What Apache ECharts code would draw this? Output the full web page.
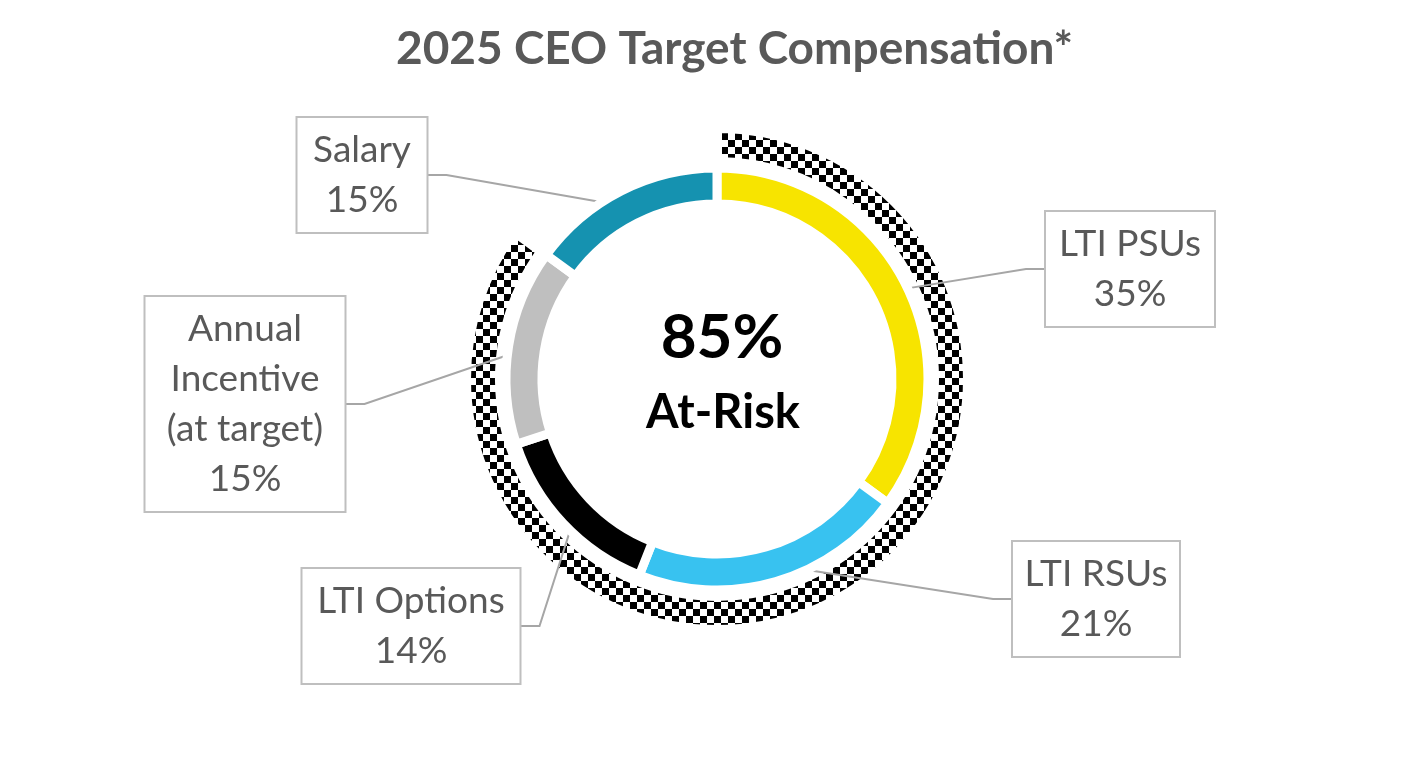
<!DOCTYPE html>
<html>
<head>
<meta charset="utf-8">
<title>2025 CEO Target Compensation</title>
<script src="https://cdn.jsdelivr.net/npm/echarts@6/dist/echarts.min.js"></script>
<style>
  html, body { margin: 0; padding: 0; background: #fff; }
  #chart { width: 1420px; height: 760px; }
</style>
</head>
<body>
<div id="chart"></div>
<script>
// 数据
const categories = ['LTI PSUs', 'LTI RSUs', 'LTI Options', 'Annual\nIncentive\n(at target)', 'Salary']
const values = [35, 21, 14, 15, 15]
const atRisk = [true, true, true, true, false]
const colors = ['#F7E400', '#38C2F0', '#000000', '#BFBFBF', '#1592B0']

const total = values.reduce((a, b) => a + b, 0)
const atRiskTotal = values.filter((v, i) => atRisk[i]).reduce((a, b) => a + b, 0)

// 布局
const cx = 717, cy = 379
const rMid = 193
// 标签框位置：中心点、内容宽度、在哪一侧
const labelBoxes = [
  { x: 1130, y: 269, w: 168, side: 'right' },
  { x: 1096, y: 599, w: 166, side: 'right' },
  { x: 411, y: 626, w: 217, side: 'left' },
  { x: 245, y: 404, w: 199, side: 'left' },
  { x: 362, y: 175, w: 129, side: 'left' }
]

// 棋盘格填充
const checker = document.createElement('canvas')
checker.width = 14
checker.height = 14
const cctx = checker.getContext('2d')
cctx.fillStyle = '#fff'
cctx.fillRect(0, 0, 14, 14)
cctx.fillStyle = '#000'
cctx.fillRect(0, 0, 7, 7)
cctx.fillRect(7, 7, 7, 7)

// 每个扇区中点的角度（从 12 点钟方向顺时针）
const midAngles = []
let cum = 0
values.forEach(v => {
  midAngles.push((cum + v / 2) / total * Math.PI * 2)
  cum += v
})

let chartDom = document.getElementById('chart')
let myChart = echarts.init(chartDom)

let option = {
  animation: false,
  textStyle: { fontFamily: 'Lato' },
  title: {
    text: '2025 CEO Target Compensation*',
    left: 396,
    top: 26,
    padding: 0,
    textStyle: {
      fontFamily: 'Lato',
      fontWeight: 'bold',
      fontSize: 46,
      color: '#595959'
    }
  },
  graphic: [
    {
      type: 'text',
      x: 722,
      y: 338,
      z: 10,
      style: {
        text: atRiskTotal + '%',
        fontFamily: 'Lato',
        fontWeight: 'bold',
        fontSize: 62,
        fill: '#000',
        align: 'center',
        verticalAlign: 'middle',
        textAlign: 'center',
        textVerticalAlign: 'middle'
      }
    },
    {
      type: 'text',
      x: 723,
      y: 413,
      z: 10,
      style: {
        text: 'At-Risk',
        fontFamily: 'Lato',
        fontWeight: 'bold',
        fontSize: 47,
        fill: '#000',
        align: 'center',
        verticalAlign: 'middle',
        textAlign: 'center',
        textVerticalAlign: 'middle'
      }
    }
  ],
  series: [
    {
      // 外圈：风险部分
      type: 'pie',
      z: 1,
      center: [cx, cy],
      radius: [217, 251],
      startAngle: 90,
      clockwise: true,
      silent: true,
      emphasis: { disabled: true },
      label: { show: false },
      labelLine: { show: false },
      data: [
        {
          value: atRiskTotal,
          name: 'At-Risk',
          itemStyle: { color: { image: checker, repeat: 'repeat' }, borderColor: '#fff', borderWidth: 10 }
        },
        {
          value: total - atRiskTotal,
          name: 'Fixed',
          itemStyle: { color: 'rgba(0,0,0,0)', borderWidth: 0 }
        }
      ]
    },
    {
      type: 'pie',
      z: 3,
      center: [cx, cy],
      radius: [175, 211],
      startAngle: 90,
      clockwise: true,
      avoidLabelOverlap: false,
      emphasis: { disabled: true },
      itemStyle: { borderColor: '#fff', borderWidth: 9 },
      label: {
        show: true,
        position: 'outside',
        formatter: p => p.name + '\n' + p.value + '%',
        fontFamily: 'Lato',
        fontSize: 37,
        lineHeight: 50,
        color: '#595959',
        backgroundColor: '#fff',
        borderColor: '#BFBFBF',
        borderWidth: 2,
        padding: [7, 0],
        align: 'center'
      },
      labelLine: {
        show: true,
        showAbove: true,
        lineStyle: { color: '#A6A6A6', width: 2 }
      },
      labelLayout: function (params) {
        const i = params.dataIndex
        const box = labelBoxes[i]
        const a = midAngles[i]
        const start = [cx + Math.sin(a) * rMid, cy - Math.cos(a) * rMid]
        const half = box.w / 2
        const edgeX = box.side === 'right' ? box.x - half : box.x + half
        const elbowX = box.side === 'right' ? edgeX - 20 : edgeX + 20
        return {
          x: box.x,
          y: box.y,
          width: box.w,
          align: 'center',
          verticalAlign: 'middle',
          labelLinePoints: [start, [elbowX, box.y], [edgeX, box.y]]
        }
      },
      data: categories.map((name, i) => ({
        name: name,
        value: values[i],
        itemStyle: { color: colors[i] },
        label: { width: labelBoxes[i].w }
      }))
    }
  ]
}

myChart.setOption(option)
</script>
</body>
</html>
